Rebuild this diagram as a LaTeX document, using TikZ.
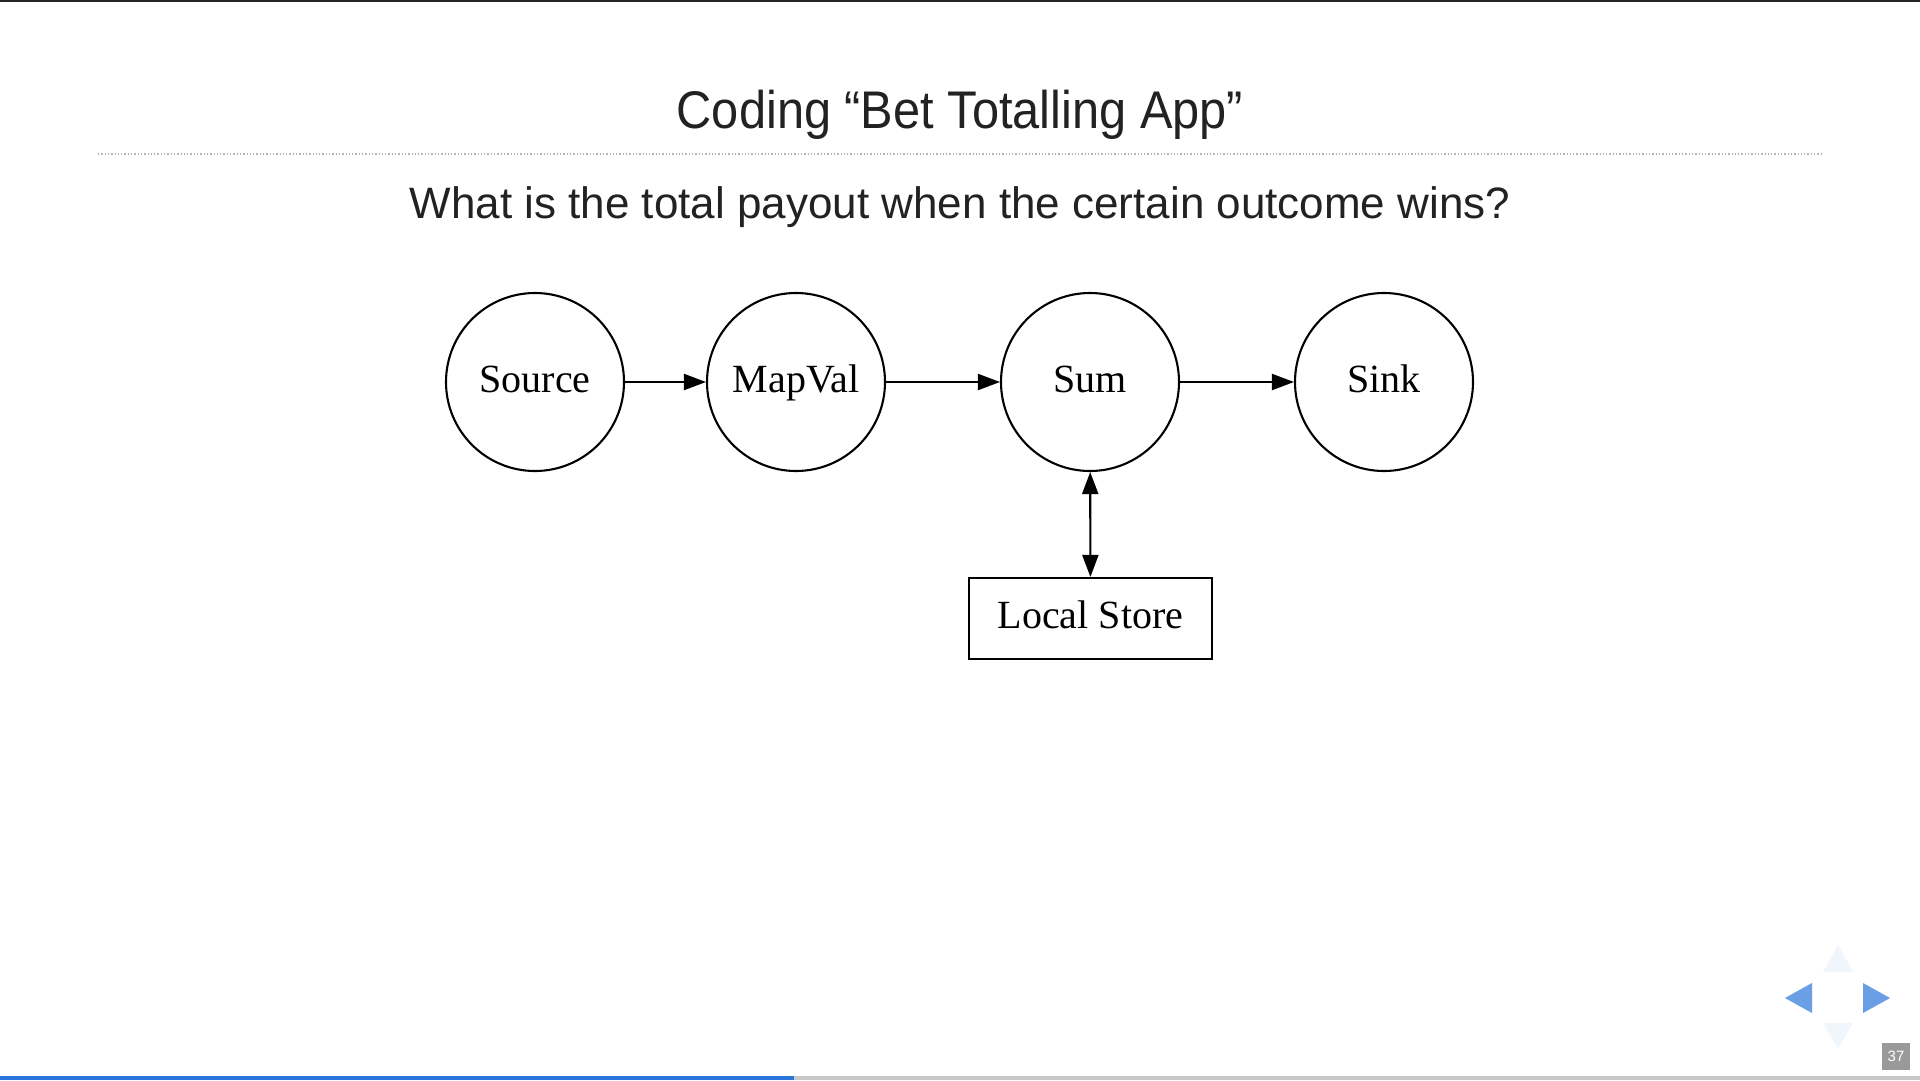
\documentclass[tikz,border=0pt]{standalone}
\usepackage{fontspec}
\setmainfont{Liberation Serif}
\newfontfamily\titlefont[FakeStretch=0.92]{Liberation Sans}
\newfontfamily\subfont[FakeStretch=1.0]{Liberation Sans}
\usetikzlibrary{arrows.meta}
\definecolor{txt}{HTML}{222222}
\definecolor{navblue}{HTML}{6A9FE6}
\definecolor{navfaint}{HTML}{F1F5FC}
\definecolor{barblue}{HTML}{2A76DD}
\definecolor{bargray}{HTML}{C8C8C8}
\tikzset{
  proc/.style={circle, draw=black, line width=2.1pt, minimum size=178pt, inner sep=0pt,
    font=\fontsize{40}{46}\selectfont, text height=27pt, text depth=7pt},
  store/.style={rectangle, draw=black, line width=2.1pt, minimum width=243pt, minimum height=81pt,
    inner sep=0pt, font=\fontsize{40}{46}\selectfont, text height=27pt, text depth=7pt},
  flow/.style={line width=2.1pt, -{Triangle[length=22pt,width=16pt]}},
  bothflow/.style={line width=2.1pt, {Triangle[length=22pt,width=16pt]}-{Triangle[length=22pt,width=16pt]}},
}
\begin{document}
\begin{tikzpicture}[x=1pt,y=-1pt]
\useasboundingbox (0,0) rectangle (1920,1080);
\fill[white] (0,0) rectangle (1920,1080);
% top line
\fill[black!85] (0,0) rectangle (1920,2);
% title
\node[anchor=base, text=txt, font=\titlefont\fontsize{53}{60}\selectfont, inner sep=0pt] (title) at (960,128) {Coding “Bet Totalling App”};
\draw[black!30, line width=1.3pt, dotted] (98,154) -- (1822,154);
\node[anchor=base, text=txt, font=\subfont\fontsize{44}{50}\selectfont, inner sep=0pt] (sub) at (960,218) {What is the total payout when the certain outcome wins?};
% diagram
\node[proc] (source) at (535,382) {Source};
\node[proc] (mapval) at (796,382) {MapVal};
\node[proc] (sum) at (1090,382) {Sum};
\node[proc] (sink) at (1384,382) {Sink};
\node[store] (local) at (1090.5,618.5) {Local Store};
\draw[flow] (source) -- (mapval);
\draw[flow] (mapval) -- (sum);
\draw[flow] (sum) -- (sink);
\draw[bothflow] (sum) -- (local);
% navigation
\fill[navfaint] (1838,945) -- (1853,972) -- (1823,972) -- cycle;
\fill[navfaint] (1838,1049) -- (1853,1023) -- (1823,1023) -- cycle;
\fill[navblue] (1785,998) -- (1812,983) -- (1812,1013) -- cycle;
\fill[navblue] (1890,998) -- (1863,983) -- (1863,1013) -- cycle;
\node[fill=black!40, text=white, minimum width=28pt, minimum height=27pt, inner sep=0pt,
  font=\subfont\fontsize{15}{18}\selectfont] (page) at (1896,1056.5) {37};
% progress bar
\fill[bargray] (0,1076) rectangle (1920,1080);
\fill[barblue] (0,1076) rectangle (794,1080);
\end{tikzpicture}
\end{document}
